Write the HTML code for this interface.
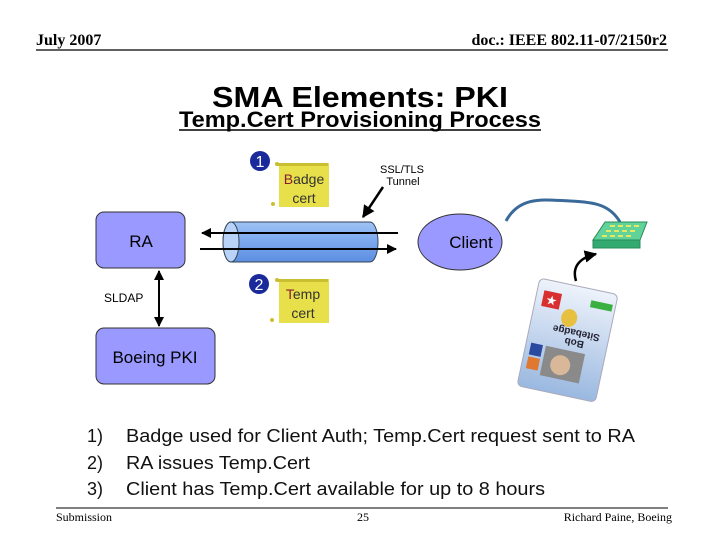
<!DOCTYPE html>
<html><head><meta charset="utf-8"><style>
html,body{margin:0;padding:0;background:#fff}
svg{display:block}
.s{font-family:"Liberation Sans",Arial,sans-serif}
.t{font-family:"Liberation Serif","Times New Roman",serif}
</style></head><body>
<svg width="720" height="540" viewBox="0 0 720 540" xmlns="http://www.w3.org/2000/svg">
<defs>
<marker id="ah" viewBox="0 0 10 10" refX="9" refY="5" markerWidth="5" markerHeight="5" orient="auto-start-reverse"><path d="M0,0L10,5L0,10z" fill="#000"/></marker>
<linearGradient id="cyl" x1="0" y1="0" x2="0" y2="1"><stop offset="0" stop-color="#9fc3f5"/><stop offset="0.5" stop-color="#7aa8ee"/><stop offset="1" stop-color="#5c8ee0"/></linearGradient>
<linearGradient id="card" x1="0" y1="0" x2="0" y2="1"><stop offset="0" stop-color="#eef3fb"/><stop offset="1" stop-color="#9ab8e0"/></linearGradient>
</defs>
<text x="36" y="45" class="t" font-size="16" font-weight="bold">July 2007</text>
<text x="667" y="45" class="t" font-size="16" font-weight="bold" text-anchor="end">doc.: IEEE 802.11-07/2150r2</text>
<line x1="36" y1="50" x2="668" y2="50" stroke="#000" stroke-width="1.2"/>
<text x="360" y="107" class="s" font-size="29" font-weight="bold" text-anchor="middle" textLength="296" lengthAdjust="spacingAndGlyphs">SMA Elements: PKI</text>
<text x="360" y="127" class="s" font-size="22" font-weight="bold" text-anchor="middle" textLength="362" lengthAdjust="spacingAndGlyphs">Temp.Cert Provisioning Process</text>
<line x1="179" y1="130" x2="541" y2="130" stroke="#000" stroke-width="1.5"/>
<rect x="96" y="212" width="89" height="56" rx="8" fill="#9999ff" stroke="#333" stroke-width="1"/>
<text x="141" y="247" class="s" font-size="17" text-anchor="middle">RA</text>
<rect x="96" y="328" width="119" height="56" rx="8" fill="#9999ff" stroke="#333" stroke-width="1"/>
<text x="155" y="363" class="s" font-size="17" text-anchor="middle">Boeing PKI</text>
<line x1="159" y1="271" x2="159" y2="326" stroke="#000" stroke-width="2" marker-start="url(#ah)" marker-end="url(#ah)"/>
<text x="104" y="302" class="s" font-size="12">SLDAP</text>
<path d="M231,222 L370,222 A8,20 0 0 1 370,262 L231,262 A8,20 0 0 1 231,222z" fill="url(#cyl)" stroke="#345" stroke-width="1"/>
<ellipse cx="231" cy="242" rx="8" ry="20" fill="#b8d2f8" stroke="#345" stroke-width="1"/>
<line x1="398" y1="233" x2="202" y2="233" stroke="#000" stroke-width="2" marker-end="url(#ah)"/>
<line x1="200" y1="249" x2="396" y2="249" stroke="#000" stroke-width="2" marker-end="url(#ah)"/>
<line x1="383" y1="187" x2="363" y2="217" stroke="#000" stroke-width="2.5" marker-end="url(#ah)"/>
<text x="402" y="173" class="s" font-size="11" text-anchor="middle">SSL/TLS</text>
<text x="403" y="185" class="s" font-size="11" text-anchor="middle">Tunnel</text>
<ellipse cx="460" cy="242" rx="42" ry="28" fill="#9999ff" stroke="#333" stroke-width="1"/>
<text x="471" y="248" class="s" font-size="17" text-anchor="middle">Client</text>
<g>
<rect x="279" y="163" width="50" height="44" fill="#e8e04a"/>
<rect x="276" y="163" width="52" height="3" fill="#c9bf30"/>
<circle cx="277" cy="164" r="2" fill="#c9bf30"/><circle cx="273" cy="204" r="2" fill="#c9bf30"/>
<text x="304" y="184" class="s" font-size="14" text-anchor="middle" fill="#333"><tspan fill="#8a1a30">B</tspan>adge</text>
<text x="304" y="203" class="s" font-size="14" text-anchor="middle" fill="#333">cert</text>
</g>
<g>
<rect x="279" y="279" width="50" height="44" fill="#e8e04a"/>
<rect x="276" y="279" width="52" height="3" fill="#c9bf30"/>
<circle cx="277" cy="280" r="2" fill="#c9bf30"/><circle cx="272" cy="320" r="2" fill="#c9bf30"/>
<text x="303" y="299" class="s" font-size="14" text-anchor="middle" fill="#333"><tspan fill="#8a1a30">T</tspan>emp</text>
<text x="303" y="318" class="s" font-size="14" text-anchor="middle" fill="#333">cert</text>
</g>
<circle cx="260" cy="161" r="10" fill="#1a2a9a"/>
<text x="260" y="167" class="s" font-size="16" text-anchor="middle" fill="#fff">1</text>
<circle cx="259" cy="284" r="10" fill="#1a2a9a"/>
<text x="259" y="290" class="s" font-size="16" text-anchor="middle" fill="#fff">2</text>
<path d="M506,221 C520,195 545,200 570,201 C595,202 610,205 620,222" fill="none" stroke="#3a6a9a" stroke-width="3"/>
<polygon points="605,222 647,222 640,240 593,240" fill="#5fd39a" stroke="#2a8a5a"/>
<polygon points="593,240 640,240 640,248 593,248" fill="#33aa70" stroke="#2a8a5a"/>
<g fill="#e8e860"><rect x="610" y="225" width="5" height="2"/><rect x="618" y="225" width="5" height="2"/><rect x="626" y="225" width="5" height="2"/><rect x="634" y="225" width="5" height="2"/>
<rect x="606" y="230" width="5" height="2"/><rect x="614" y="230" width="5" height="2"/><rect x="622" y="230" width="5" height="2"/><rect x="630" y="230" width="5" height="2"/>
<rect x="602" y="235" width="5" height="2"/><rect x="610" y="235" width="5" height="2"/><rect x="618" y="235" width="5" height="2"/><rect x="626" y="235" width="5" height="2"/></g>
<path d="M576,281 C572,268 578,258 596,254" fill="none" stroke="#000" stroke-width="2.5" marker-end="url(#ah)"/>
<g transform="rotate(12 567 338)">
<rect x="528" y="285" width="80" height="110" rx="5" fill="url(#card)" stroke="#aab"/>
<rect x="535" y="296" width="18" height="16" fill="#d83030"/>
<text x="544" y="309" font-size="13" text-anchor="middle" fill="#fff">★</text>
<rect x="583" y="296" width="22" height="7" fill="#3ab040"/>
<ellipse cx="565" cy="318" rx="8" ry="9" fill="#e8c040"/>
<text x="575" y="336" class="s" font-size="10" font-weight="bold" text-anchor="middle" fill="#223" transform="rotate(180 575 332)">Sitebadge</text>
<text x="575" y="346" class="s" font-size="10" font-weight="bold" text-anchor="middle" fill="#223" transform="rotate(180 575 342)">Bob</text>
<rect x="533" y="350" width="12" height="12" fill="#2a4aa0"/>
<rect x="533" y="364" width="12" height="12" fill="#e07830"/>
<rect x="548" y="350" width="40" height="30" fill="#8a8a8a"/>
<circle cx="566" cy="366" r="10" fill="#d8b898"/>
</g>
<g class="s" font-size="18" fill="#111">
<text x="87" y="442">1)</text><text x="126" y="442" textLength="509" lengthAdjust="spacingAndGlyphs">Badge used for Client Auth; Temp.Cert request sent to RA</text>
<text x="87" y="469">2)</text><text x="126" y="469" textLength="184" lengthAdjust="spacingAndGlyphs">RA issues Temp.Cert</text>
<text x="87" y="495">3)</text><text x="126" y="495" textLength="419" lengthAdjust="spacingAndGlyphs">Client has Temp.Cert available for up to 8 hours</text>
</g>
<line x1="56" y1="508" x2="668" y2="508" stroke="#000" stroke-width="1"/>
<text x="56" y="521" class="t" font-size="12">Submission</text>
<text x="363" y="521" class="t" font-size="12" text-anchor="middle">25</text>
<text x="672" y="521" class="t" font-size="12" text-anchor="end">Richard Paine, Boeing</text>
</svg>
</body></html>
